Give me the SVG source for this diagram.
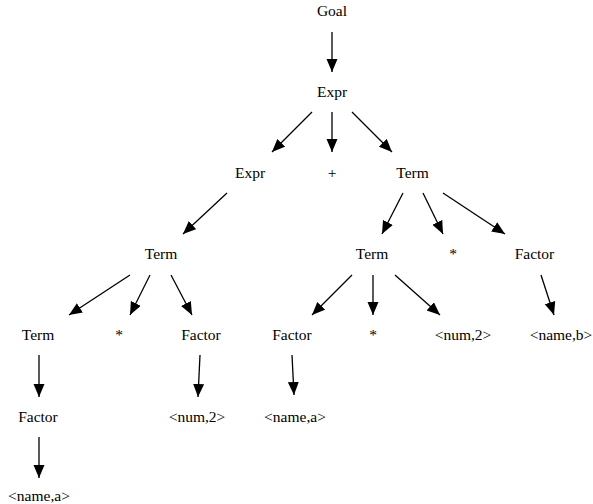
<svg xmlns="http://www.w3.org/2000/svg" width="593" height="504" viewBox="0 0 593 504">
<defs>
<marker id="ah" markerUnits="userSpaceOnUse" markerWidth="14" markerHeight="12" refX="13" refY="5.5" orient="auto">
<path d="M0,0 L13,5.5 L0,11 z" fill="#000"/>
</marker>
<style>
.n text{font-family:'Liberation Serif','DejaVu Serif',serif;font-size:15.5px;text-anchor:middle;fill:#000}
.e line{stroke:#000;stroke-width:1.3;marker-end:url(#ah)}
</style>
</defs>
<rect width="593" height="504" fill="#fff"/>
<g class="e" id="edges">
<line x1="332" y1="32" x2="332" y2="72"/>
<line x1="312" y1="112" x2="272" y2="152"/>
<line x1="332" y1="112" x2="332" y2="152"/>
<line x1="352" y1="112" x2="392" y2="152"/>
<line x1="227" y1="193" x2="183" y2="234"/>
<line x1="403" y1="193" x2="382" y2="234"/>
<line x1="423" y1="193" x2="443" y2="234"/>
<line x1="443" y1="193" x2="505" y2="234"/>
<line x1="130" y1="275" x2="69" y2="315"/>
<line x1="150" y1="275" x2="130" y2="315"/>
<line x1="171" y1="275" x2="192" y2="315"/>
<line x1="352" y1="275" x2="312" y2="315"/>
<line x1="373" y1="275" x2="373" y2="315"/>
<line x1="395" y1="275" x2="440" y2="315"/>
<line x1="541" y1="275" x2="554" y2="315"/>
<line x1="39" y1="355" x2="39" y2="397"/>
<line x1="200" y1="355" x2="198" y2="397"/>
<line x1="292" y1="355" x2="294" y2="395"/>
<line x1="39" y1="437" x2="39" y2="478"/>
</g>
<g class="n" id="n_goal"><text x="332" y="16">Goal</text></g>
<g class="n" id="n_expr0"><text x="332" y="97">Expr</text></g>
<g class="n" id="n_expr1"><text x="250" y="178">Expr</text></g>
<g class="n" id="n_plus"><text x="332" y="178">+</text></g>
<g class="n" id="n_term0"><text x="412.5" y="178">Term</text></g>
<g class="n" id="n_term1"><text x="161" y="259">Term</text></g>
<g class="n" id="n_term2"><text x="372" y="259">Term</text></g>
<g class="n" id="n_star0"><text x="453" y="259">*</text></g>
<g class="n" id="n_factor0"><text x="534.5" y="259">Factor</text></g>
<g class="n" id="n_term3"><text x="38" y="340">Term</text></g>
<g class="n" id="n_star1"><text x="119" y="340">*</text></g>
<g class="n" id="n_factor1"><text x="201" y="340">Factor</text></g>
<g class="n" id="n_factor2"><text x="292" y="340">Factor</text></g>
<g class="n" id="n_star2"><text x="373" y="340">*</text></g>
<g class="n" id="n_num0"><text x="463" y="340">&lt;num,2&gt;</text></g>
<g class="n" id="n_nameb"><text x="561" y="340">&lt;name,b&gt;</text></g>
<g class="n" id="n_factor3"><text x="38" y="422">Factor</text></g>
<g class="n" id="n_num1"><text x="197" y="422">&lt;num,2&gt;</text></g>
<g class="n" id="n_namea0"><text x="295" y="422">&lt;name,a&gt;</text></g>
<g class="n" id="n_namea1"><text x="39" y="501">&lt;name,a&gt;</text></g>
</svg>
